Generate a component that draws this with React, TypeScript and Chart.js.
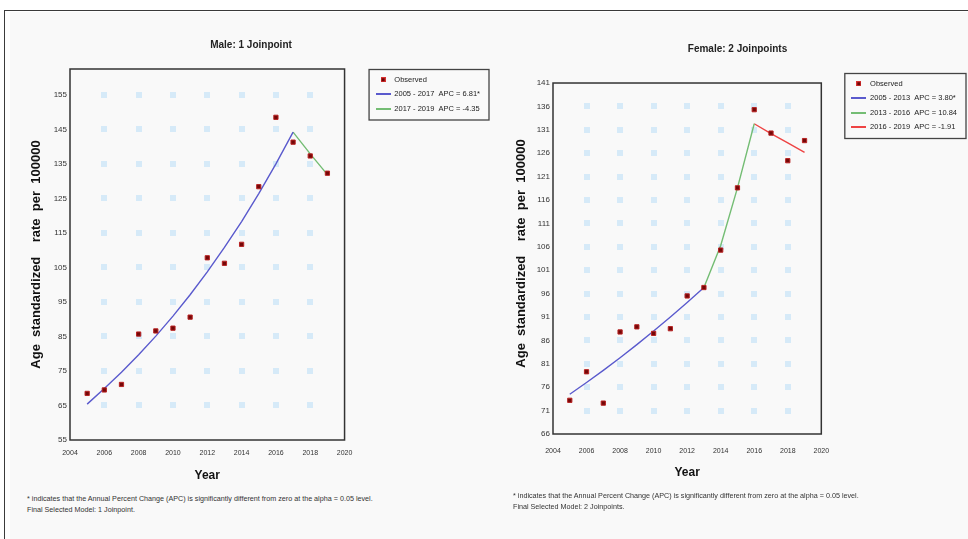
import React, { useEffect, useRef } from "react";
import { Chart, registerables } from "chart.js";

Chart.register(...registerables);

const FONT = "'Liberation Sans', Arial, sans-serif";

// ---------- data ----------
const years = [2005, 2006, 2007, 2008, 2009, 2010, 2011, 2012, 2013, 2014, 2015, 2016, 2017, 2018, 2019];
const xTicks = [2004, 2006, 2008, 2010, 2012, 2014, 2016, 2018, 2020];

const maleObserved = [68.5, 69.5, 71.1, 85.7, 86.6, 87.4, 90.6, 107.8, 106.2, 111.7, 128.4, 148.5, 141.3, 137.3, 132.3];
const maleSeg1Years = [2005, 2006, 2007, 2008, 2009, 2010, 2011, 2012, 2013, 2014, 2015, 2016, 2017];
const maleSeg1Values = [65.4, 69.9, 74.6, 79.7, 85.1, 90.9, 97.1, 103.7, 110.8, 118.3, 126.4, 135.0, 144.2];
const maleSeg2Years = [2017, 2018, 2019];
const maleSeg2Values = [144.2, 137.9, 131.9];
const maleYTicks = [55, 65, 75, 85, 95, 105, 115, 125, 135, 145, 155];
const maleLegend = ["Observed", "2005 - 2017  APC = 6.81*", "2017 - 2019  APC = -4.35"];

const femaleObserved = [73.2, 79.3, 72.6, 87.8, 88.9, 87.5, 88.5, 95.5, 97.3, 105.3, 118.6, 135.3, 130.3, 124.4, 128.7];
const femaleSeg1Years = [2005, 2006, 2007, 2008, 2009, 2010, 2011, 2012, 2013];
const femaleSeg1Values = [74.5, 77.0, 79.6, 82.3, 85.1, 88.0, 91.0, 94.1, 97.3];
const femaleSeg2Years = [2013, 2014, 2015, 2016];
const femaleSeg2Values = [97.3, 106.3, 118.6, 132.3];
const femaleSeg3Years = [2016, 2017, 2018, 2019];
const femaleSeg3Values = [132.3, 130.2, 128.2, 126.2];
const femaleYTicks = [66, 71, 76, 81, 86, 91, 96, 101, 106, 111, 116, 121, 126, 131, 136, 141];
const femaleLegend = ["Observed", "2005 - 2013  APC = 3.80*", "2013 - 2016  APC = 10.84", "2016 - 2019  APC = -1.91"];

const BLUE = "#5a5acd";
const GREEN = "#74bd74";
const RED = "#ee4444";

const footLine1 = "* indicates that the Annual Percent Change (APC) is significantly different from zero at the alpha = 0.05 level.";

// ---------- helpers ----------
function lineImg(color: string) {
  const c = document.createElement("canvas");
  c.width = 15;
  c.height = 2;
  const g = c.getContext("2d")!;
  g.fillStyle = color;
  g.fillRect(0, 0, 15, 2);
  return c;
}
function obsImg() {
  const c = document.createElement("canvas");
  c.width = 5;
  c.height = 5;
  const g = c.getContext("2d")!;
  g.fillStyle = "#d83030";
  g.fillRect(0, 0, 5, 5);
  g.fillStyle = "#6e0505";
  g.fillRect(1, 1, 3, 3);
  return c;
}

const decoPlugin = {
  id: "deco",
  beforeDatasetsDraw(chart: any, _a: any, opts: any) {
    const { ctx } = chart;
    const xs = chart.scales.x;
    const ys = chart.scales.y;
    ctx.save();
    ctx.fillStyle = "#d6eaf8";
    for (const xv of opts.dotX) {
      for (const yv of opts.dotY) {
        const px = xs.getPixelForValue(xv);
        const py = ys.getPixelForValue(yv);
        ctx.fillRect(Math.round(px - 3), Math.round(py - 3), 6, 6);
      }
    }
    ctx.restore();
  },
  afterDatasetsDraw(chart: any, _a: any, opts: any) {
    const { ctx, chartArea } = chart;
    const top = chart.scales.y.getPixelForValue(opts.frameTop);
    ctx.save();
    ctx.strokeStyle = "#333";
    ctx.lineWidth = 1.5;
    ctx.strokeRect(chartArea.left, top, chartArea.right - chartArea.left, chartArea.bottom - top);
    ctx.restore();
  },
  afterDraw(chart: any) {
    const lg = chart.legend;
    if (!lg || !lg.legendHitBoxes || !lg.legendHitBoxes.length) return;
    const hb = lg.legendHitBoxes;
    const last = hb[hb.length - 1];
    const ctx = chart.ctx;
    ctx.save();
    ctx.strokeStyle = "#444";
    ctx.lineWidth = 1.3;
    const x0 = lg.left + 0.5;
    const y0 = lg.top + 0.5;
    ctx.strokeRect(x0, y0, lg.width - 1.5, last.top + last.height + 7 - lg.top);
    ctx.restore();
  },
};

type Seg = { years: number[]; values: number[]; color: string };
type Panel = {
  title: string;
  observed: number[];
  segs: Seg[];
  legend: string[];
  yTicks: number[];
  yMin: number;
  yMax: number;
  frameTop: number;
  yAxisWidth: number;
  xAxisHeight: number;
  gapWidth: number;
  legendWidth: number;
  padRight: number;
  titlePad: { top: number; bottom: number };
  yTitlePad: number;
  xTitlePad: number;
  xTickPad: number;
};

function buildConfig(p: Panel): any {
  const imgs: any[] = [obsImg(), ...p.segs.map((s) => lineImg(s.color))];
  const datasets: any[] = [
    {
      label: p.legend[0],
      data: years.map((x, i) => ({ x, y: p.observed[i] })),
      pointStyle: "rect",
      pointRadius: 3,
      backgroundColor: "#740808",
      borderColor: "#b82222",
      borderWidth: 1,
      showLine: false,
    },
    ...p.segs.map((s, k) => ({
      label: p.legend[k + 1],
      data: s.years.map((x, i) => ({ x, y: s.values[i] })),
      showLine: true,
      borderColor: s.color,
      backgroundColor: s.color,
      borderWidth: 1.4,
      pointRadius: 0,
      tension: 0,
    })),
  ];
  return {
    type: "scatter",
    data: { datasets },
    plugins: [decoPlugin],
    options: {
      animation: false,
      responsive: false,
      events: [],
      layout: { padding: { left: 0, top: 0, bottom: 0, right: p.padRight } },
      plugins: {
        title: {
          display: true,
          text: p.title,
          color: "#222",
          font: { family: FONT, size: 10, weight: "bold" },
          padding: p.titlePad,
        },
        legend: {
          display: true,
          position: "right",
          align: "start",
          fullSize: false,
          maxWidth: p.legendWidth,
          labels: {
            usePointStyle: true,
            pointStyleWidth: 15,
            padding: 7,
            color: "#222",
            font: { family: FONT, size: 7.5 },
            generateLabels: (chart: any) => {
              const items = (Chart as any).defaults.plugins.legend.labels.generateLabels(chart);
              return items.map((it: any, i: number) => ({
                ...it,
                text: p.legend[i],
                pointStyle: imgs[i],
                fontColor: "#222",
              }));
            },
          },
        },
        tooltip: { enabled: false },
        deco: {
          dotX: xTicks.slice(1, -1),
          dotY: p.yTicks.filter((v) => v > p.yMin && v < p.frameTop),
          frameTop: p.frameTop,
        },
      },
      scales: {
        x: {
          type: "linear",
          position: "bottom",
          min: 2004,
          max: 2020,
          afterBuildTicks: (s: any) => {
            s.ticks = xTicks.map((v) => ({ value: v }));
          },
          afterFit: (s: any) => {
            s.height = p.xAxisHeight;
          },
          grid: { display: false, drawTicks: false },
          border: { display: false },
          ticks: {
            autoSkip: false,
            maxRotation: 0,
            padding: p.xTickPad,
            color: "#333",
            font: { family: FONT, size: 7 },
            callback: (v: any) => String(v),
          },
          title: {
            display: true,
            text: "Year",
            color: "#111",
            font: { family: FONT, size: 12, weight: "bold" },
            padding: { top: 0, bottom: p.xTitlePad },
          },
        },
        y: {
          type: "linear",
          position: "left",
          min: p.yMin,
          max: p.yMax,
          afterBuildTicks: (s: any) => {
            s.ticks = p.yTicks.map((v) => ({ value: v }));
          },
          afterFit: (s: any) => {
            s.width = p.yAxisWidth;
          },
          grid: { display: false, drawTicks: false },
          border: { display: false },
          ticks: {
            autoSkip: false,
            padding: 3,
            color: "#333",
            font: { family: FONT, size: 8 },
            callback: (v: any) => String(v),
          },
          title: {
            display: true,
            text: "Age  standardized    rate  per  100000",
            color: "#111",
            font: { family: FONT, size: 13, weight: "bold" },
            padding: { top: p.yTitlePad, bottom: 0 },
          },
        },
        gap: {
          type: "linear",
          position: "right",
          display: true,
          grid: { display: false, drawTicks: false },
          border: { display: false },
          ticks: { display: false },
          afterFit: (s: any) => {
            s.width = p.gapWidth;
          },
        },
      },
    },
  };
}

const malePanel: Panel = {
  title: "Male: 1 Joinpoint",
  observed: maleObserved,
  segs: [
    { years: maleSeg1Years, values: maleSeg1Values, color: BLUE },
    { years: maleSeg2Years, values: maleSeg2Values, color: GREEN },
  ],
  legend: maleLegend,
  yTicks: maleYTicks,
  yMin: 55,
  yMax: 162.5,
  frameTop: 162.5,
  yAxisWidth: 58,
  xAxisHeight: 48,
  gapWidth: 24,
  legendWidth: 123,
  padRight: 22,
  titlePad: { top: 11, bottom: 18 },
  yTitlePad: 17,
  xTitlePad: 4.8,
  xTickPad: 9,
};

const femalePanel: Panel = {
  title: "Female: 2 Joinpoints",
  observed: femaleObserved,
  segs: [
    { years: femaleSeg1Years, values: femaleSeg1Values, color: BLUE },
    { years: femaleSeg2Years, values: femaleSeg2Values, color: GREEN },
    { years: femaleSeg3Years, values: femaleSeg3Values, color: RED },
  ],
  legend: femaleLegend,
  yTicks: femaleYTicks,
  yMin: 66,
  yMax: 143.14,
  frameTop: 141,
  yAxisWidth: 45,
  xAxisHeight: 54,
  gapWidth: 23,
  legendWidth: 124,
  padRight: 1,
  titlePad: { top: 15, bottom: 18 },
  yTitlePad: 6,
  xTitlePad: 7.8,
  xTickPad: 13,
};

function PanelChart({ panel, left, top, width, height }: { panel: Panel; left: number; top: number; width: number; height: number }) {
  const ref = useRef<HTMLCanvasElement | null>(null);
  useEffect(() => {
    if (!ref.current) return;
    const chart = new Chart(ref.current, buildConfig(panel));
    return () => chart.destroy();
  }, [panel]);
  return (
    <canvas
      ref={ref}
      width={width}
      height={height}
      style={{ position: "absolute", left, top, width, height }}
    />
  );
}

const footStyle: React.CSSProperties = {
  position: "absolute",
  fontFamily: FONT,
  fontSize: 7.2,
  lineHeight: "11px",
  color: "#333",
  whiteSpace: "nowrap",
};

export default function App() {
  return (
    <div
      style={{
        position: "fixed",
        left: 0,
        top: 0,
        width: 968,
        height: 539,
        background: "#ffffff",
        overflow: "hidden",
      }}
    >
      <div
        style={{
          position: "absolute",
          left: 4,
          top: 10,
          width: 1000,
          height: 600,
          borderTop: "1px solid #3a3a3a",
          borderLeft: "1px solid #3a3a3a",
        }}
      />
      <div style={{ position: "absolute", left: 10, top: 12, width: 958, height: 527, background: "#f9f9f9" }} />
      <PanelChart panel={malePanel} left={12} top={28} width={500} height={460} />
      <PanelChart panel={femalePanel} left={508} top={28} width={460} height={460} />
      <div style={{ ...footStyle, left: 27, top: 493 }}>
        {footLine1}
        <br />
        Final Selected Model: 1 Joinpoint.
      </div>
      <div style={{ ...footStyle, left: 513, top: 490 }}>
        {footLine1}
        <br />
        Final Selected Model: 2 Joinpoints.
      </div>
    </div>
  );
}
